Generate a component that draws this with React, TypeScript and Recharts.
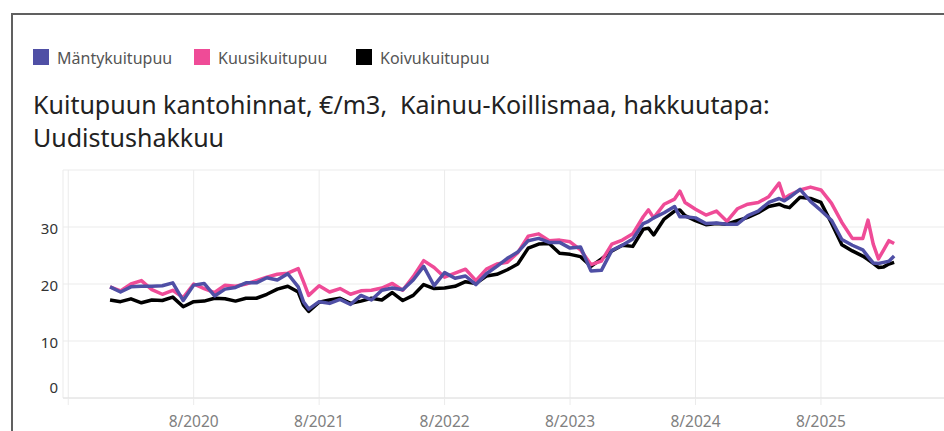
import React from 'react';
import { LineChart, Line, XAxis, YAxis, CartesianGrid } from 'recharts';

// Observation dates (YYYY-MM-DD)
const dates = [
  '2019-12-01',
  '2020-01-01', '2020-02-01', '2020-03-01', '2020-04-01', '2020-05-01', '2020-06-01',
  '2020-07-01', '2020-08-01', '2020-09-01', '2020-10-01', '2020-11-01', '2020-12-01',
  '2021-01-01', '2021-02-01', '2021-03-01', '2021-04-01', '2021-05-01', '2021-06-01', '2021-06-16',
  '2021-07-01', '2021-08-01', '2021-09-01', '2021-10-01', '2021-11-01', '2021-12-01',
  '2022-01-01', '2022-02-01', '2022-03-01', '2022-04-01', '2022-05-01', '2022-06-01',
  '2022-07-01', '2022-08-01', '2022-09-01', '2022-10-01', '2022-11-01', '2022-12-01',
  '2023-01-01', '2023-02-01', '2023-03-01', '2023-04-01', '2023-05-01', '2023-06-01',
  '2023-07-01', '2023-08-01', '2023-09-01', '2023-10-01', '2023-11-01', '2023-12-01',
  '2024-01-01', '2024-02-01', '2024-03-01', '2024-03-16', '2024-04-01', '2024-05-01', '2024-06-01', '2024-06-16',
  '2024-07-01', '2024-08-01', '2024-09-01', '2024-10-01', '2024-11-01', '2024-12-01',
  '2025-01-01', '2025-02-01', '2025-03-01', '2025-04-01', '2025-04-16', '2025-05-01', '2025-06-01',
  '2025-07-01', '2025-08-01', '2025-09-01', '2025-10-01', '2025-11-01', '2025-12-01', '2025-12-16',
  '2026-01-01', '2026-01-16', '2026-02-01', '2026-02-16', '2026-03-01',
];

// Mäntykuitupuu €/m3
const mantyValues = [
  19.5,
  18.6, 19.5, 19.6, 19.6, 19.7, 20.2, 17.1, 19.8, 20.1, 17.9, 19.1, 19.4,
  20.2, 20.2, 21.1, 20.7, 21.8, 19.5, 16.9, 15.6, 16.9, 16.6, 17.3, 16.4, 18.0,
  17.2, 18.9, 19.3, 19.0, 20.7, 23.1, 19.7, 22.0, 21.0, 21.4, 19.9, 21.8,
  23.1, 24.5, 25.6, 27.6, 28.0, 27.3, 27.3, 26.3, 26.5, 22.3, 22.4, 25.9,
  26.8, 27.9, 30.6, 31.0, 31.6, 32.5, 33.6, 31.8, 31.8, 31.6, 30.6, 30.7, 30.5, 30.5,
  32.0, 32.8, 34.3, 35.0, 34.6, 35.2, 36.6, 34.5, 32.9, 31.2, 27.8, 26.8, 26.0, 24.8,
  23.7, 23.6, 23.8, 24.0, 24.9,
];

// Kuusikuitupuu €/m3
const kuusiValues = [
  19.5,
  18.8, 20.0, 20.6, 19.0, 18.2, 18.9, 17.6, 20.0, 19.2, 18.5, 19.8, 19.6,
  20.0, 20.6, 21.2, 21.7, 21.9, 22.7, 20.4, 18.0, 19.7, 18.6, 19.2, 18.2, 18.8,
  18.9, 19.3, 20.1, 18.9, 21.3, 24.1, 22.9, 21.2, 21.9, 22.6, 20.6, 22.6,
  23.5, 23.8, 25.5, 28.4, 28.8, 27.6, 27.7, 27.4, 26.0, 23.4, 24.0, 27.0,
  27.7, 28.8, 31.8, 33.0, 31.6, 34.0, 34.9, 36.3, 34.3, 33.1, 32.1, 32.8, 31.0, 33.2,
  34.0, 34.3, 35.3, 37.7, 35.0, 35.6, 36.5, 37.0, 36.5, 34.2, 30.8, 28.0, 28.0, 31.2,
  27.0, 24.4, 26.0, 27.6, 27.1,
];

// Koivukuitupuu €/m3
const koivuValues = [
  17.2,
  16.9, 17.4, 16.7, 17.2, 17.1, 17.7, 16.0, 16.9, 17.0, 17.5, 17.4, 17.0,
  17.5, 17.5, 18.2, 19.1, 19.6, 18.6, 16.3, 15.2, 16.8, 17.2, 17.5, 16.6, 17.0,
  17.5, 17.2, 18.5, 17.1, 18.0, 19.9, 19.2, 19.3, 19.6, 20.4, 20.1, 21.4,
  21.7, 22.5, 23.5, 26.3, 27.0, 27.1, 25.4, 25.2, 24.8, 23.1, 24.4, 25.8,
  26.8, 26.6, 29.6, 29.8, 28.6, 31.4, 32.8, 33.0, 32.0, 31.1, 30.4, 30.6, 30.5, 31.1,
  31.7, 32.5, 33.6, 34.0, 33.6, 33.4, 35.2, 35.0, 34.3, 30.7, 26.9, 25.8, 24.9, 24.3,
  23.6, 22.9, 23.0, 23.5, 23.8,
];

const seriesNames = ['Mäntykuitupuu', 'Kuusikuitupuu', 'Koivukuitupuu'];
const seriesColors = ['#4f4fa5', '#ef4b97', '#000000'];
const yTicks = [0, 10, 20, 30];
const xTickYears = [2019, 2020, 2021, 2022, 2023, 2024, 2025, 2026];
const xTickLabels = ['', '8/2020', '8/2021', '8/2022', '8/2023', '8/2024', '8/2025', ''];
const titleLines = ['Kuitupuun kantohinnat, €/m3,  Kainuu-Koillismaa, hakkuutapa:', 'Uudistushakkuu'];

const FONT = '"Noto Sans", "Open Sans", Arial, sans-serif';

// months since August 2019
const monthOffset = (d: string) => {
  const [y, mo, da] = d.split('-').map(Number);
  return (y - 2019) * 12 + (mo - 8) + ((da || 1) - 1) / 30;
};

const data = dates.map((d, i) => ({
  m: monthOffset(d),
  manty: mantyValues[i],
  kuusi: kuusiValues[i],
  koivu: koivuValues[i],
}));

const xTicks = xTickYears.map((y) => (y - 2019) * 12);
const xLabelFor = (v: number) => {
  const idx = xTicks.indexOf(v);
  return idx >= 0 ? xTickLabels[idx] : '';
};

const YTick = (props: any) => {
  const { x, y, payload } = props;
  const shift = payload.value === 0 ? -10 : 1.5;
  return (
    <text x={x} y={y + shift} dy="0.355em" textAnchor="end" fill="#333333" fontSize={15} fontFamily={FONT}>
      {payload.value}
    </text>
  );
};

export default function App() {
  return (
    <div style={{ position: 'fixed', left: 0, top: 0, width: 944, height: 431, overflow: 'hidden', background: '#fff' }}>
      <div
        style={{
          position: 'absolute',
          left: 11,
          top: 13,
          width: 1200,
          height: 1200,
          borderLeft: '2px solid #606060',
          borderTop: '2px solid #606060',
        }}
      />
      {seriesNames.map((name, i) => (
        <div key={name} style={{ position: 'absolute', left: [33, 194, 356][i], top: 49, height: 16, fontFamily: FONT }}>
          <div style={{ position: 'absolute', left: 0, top: 0, width: 16, height: 16, background: seriesColors[i] }} />
          <div
            style={{
              position: 'absolute',
              left: 24,
              top: 1,
              fontSize: 16,
              lineHeight: '16px',
              color: '#555555',
              whiteSpace: 'nowrap',
            }}
          >
            {name}
          </div>
        </div>
      ))}
      <div
        style={{
          position: 'absolute',
          left: 33,
          top: 88,
          fontFamily: FONT,
          fontSize: 25,
          lineHeight: '33px',
          color: '#222222',
          whiteSpace: 'pre',
        }}
      >
        {titleLines[0]}
        {'\n'}
        {titleLines[1]}
      </div>
      <div style={{ position: 'absolute', left: 0, top: 0 }}>
        <LineChart width={993} height={431} data={data} margin={{ top: 170, right: 10, bottom: 3, left: 0 }}>
          <CartesianGrid stroke="#ebebeb" strokeWidth={1} />
          <XAxis
            dataKey="m"
            type="number"
            domain={[-0.5, 87.5]}
            ticks={xTicks}
            interval={0}
            tickFormatter={xLabelFor}
            height={30}
            axisLine={{ stroke: '#e2e2e2' }}
            tickLine={{ stroke: '#ebebeb' }}
            tickSize={7}
            tickMargin={11}
            tick={{ fill: '#808080', fontSize: 15.5, fontFamily: FONT }}
          />
          <YAxis
            type="number"
            domain={[0, 40]}
            ticks={yTicks}
            width={63}
            axisLine={false}
            tickLine={false}
            tickSize={0}
            tickMargin={5}
            tick={<YTick />}
          />
          <Line dataKey="koivu" name={seriesNames[2]} stroke={seriesColors[2]} strokeWidth={3.5} dot={false} isAnimationActive={false} strokeLinejoin="round" />
          <Line dataKey="kuusi" name={seriesNames[1]} stroke={seriesColors[1]} strokeWidth={3.5} dot={false} isAnimationActive={false} strokeLinejoin="round" />
          <Line dataKey="manty" name={seriesNames[0]} stroke={seriesColors[0]} strokeWidth={3.5} dot={false} isAnimationActive={false} strokeLinejoin="round" />
        </LineChart>
      </div>
    </div>
  );
}
